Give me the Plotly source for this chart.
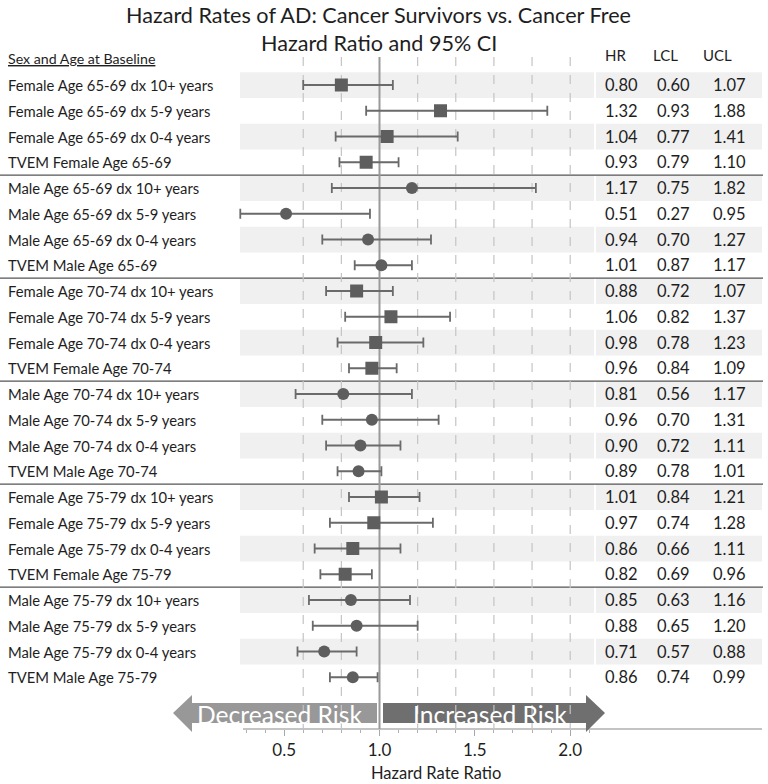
import plotly.graph_objects as go

# ---------------- data ----------------
labels = [
    "Female Age 65-69 dx 10+ years", "Female Age 65-69 dx 5-9 years",
    "Female Age 65-69 dx 0-4 years", "TVEM Female Age 65-69",
    "Male Age 65-69 dx 10+ years", "Male Age 65-69 dx 5-9 years",
    "Male Age 65-69 dx 0-4 years", "TVEM Male Age 65-69",
    "Female Age 70-74 dx 10+ years", "Female Age 70-74 dx 5-9 years",
    "Female Age 70-74 dx 0-4 years", "TVEM Female Age 70-74",
    "Male Age 70-74 dx 10+ years", "Male Age 70-74 dx 5-9 years",
    "Male Age 70-74 dx 0-4 years", "TVEM Male Age 70-74",
    "Female Age 75-79 dx 10+ years", "Female Age 75-79 dx 5-9 years",
    "Female Age 75-79 dx 0-4 years", "TVEM Female Age 75-79",
    "Male Age 75-79 dx 10+ years", "Male Age 75-79 dx 5-9 years",
    "Male Age 75-79 dx 0-4 years", "TVEM Male Age 75-79",
]
hr = [0.80, 1.32, 1.04, 0.93, 1.17, 0.51, 0.94, 1.01,
      0.88, 1.06, 0.98, 0.96, 0.81, 0.96, 0.90, 0.89,
      1.01, 0.97, 0.86, 0.82, 0.85, 0.88, 0.71, 0.86]
lcl = [0.60, 0.93, 0.77, 0.79, 0.75, 0.27, 0.70, 0.87,
       0.72, 0.82, 0.78, 0.84, 0.56, 0.70, 0.72, 0.78,
       0.84, 0.74, 0.66, 0.69, 0.63, 0.65, 0.57, 0.74]
ucl = [1.07, 1.88, 1.41, 1.10, 1.82, 0.95, 1.27, 1.17,
       1.07, 1.37, 1.23, 1.09, 1.17, 1.31, 1.11, 1.01,
       1.21, 1.28, 1.11, 0.96, 1.16, 1.20, 0.88, 0.99]
grid_x = [0.6, 0.8, 1.2, 1.4, 1.6, 1.8, 2.0]
group_breaks = [3.5, 7.5, 11.5, 15.5, 19.5]

title1 = "Hazard Rates of AD: Cancer Survivors vs. Cancer Free"
title2 = "Hazard Ratio and 95% CI"

W, H = 768, 784
FONT = "Lato"
TXT = "#1e1e1e"


def px(v):
    return v / W


def py(v):
    return 1 - v / H


rows = list(range(len(labels)))
fem = [i for i in rows if "Female" in labels[i]]
mal = [i for i in rows if "Female" not in labels[i]]

fig = go.Figure()


def add_series(idx, symbol, size):
    fig.add_trace(go.Scatter(
        x=[hr[i] for i in idx], y=[i for i in idx], mode="markers",
        marker=dict(symbol=symbol, size=size, color="#5e5e5e"),
        error_x=dict(type="data", symmetric=False,
                     array=[ucl[i] - hr[i] for i in idx],
                     arrayminus=[hr[i] - lcl[i] for i in idx],
                     color="#6a6a6a", thickness=1.8, width=5),
        showlegend=False, hoverinfo="skip"))


add_series(fem, "square", 13)
add_series(mal, "circle", 12)

shapes = []
# alternating bands
for i in rows:
    if i % 2 == 0:
        shapes.append(dict(type="rect", xref="paper", yref="y", x0=px(240), x1=px(594),
                           y0=i - 0.5, y1=i + 0.5, fillcolor="#f0f0f0", line_width=0, layer="below"))
        shapes.append(dict(type="rect", xref="paper", yref="y", x0=px(596), x1=px(762),
                           y0=i - 0.5, y1=i + 0.5, fillcolor="#f0f0f0", line_width=0, layer="below"))
# group separators
for b in group_breaks:
    shapes.append(dict(type="line", xref="paper", yref="y", x0=0, x1=px(763), y0=b, y1=b,
                       line=dict(color="#555555", width=1.3), layer="below"))
# axis line
shapes.append(dict(type="line", xref="paper", yref="paper", x0=px(243), x1=px(762),
                   y0=py(729), y1=py(729), line=dict(color="#b0b0b0", width=1.5), layer="below"))
# arrows
left_arrow = (f"M {px(173)} {py(713)} L {px(192)} {py(695)} L {px(192)} {py(703)} "
              f"L {px(377)} {py(703)} L {px(377)} {py(723)} L {px(192)} {py(723)} "
              f"L {px(192)} {py(732)} Z")
right_arrow = (f"M {px(605)} {py(713)} L {px(586)} {py(695)} L {px(586)} {py(703)} "
               f"L {px(383)} {py(703)} L {px(383)} {py(723)} L {px(586)} {py(723)} "
               f"L {px(586)} {py(732)} Z")
shapes.append(dict(type="path", xref="paper", yref="paper", path=left_arrow,
                   fillcolor="#989898", line_width=0, layer="between"))
shapes.append(dict(type="path", xref="paper", yref="paper", path=right_arrow,
                   fillcolor="#6f6f6f", line_width=0, layer="between"))
# dashed grid
for g in grid_x:
    shapes.append(dict(type="line", xref="x", yref="paper", x0=g, x1=g, y0=py(57), y1=py(729),
                       line=dict(color="#c4c4c4", width=1.2, dash="dash"), layer="between"))
# reference line at 1.0
shapes.append(dict(type="line", xref="x", yref="paper", x0=1.0, x1=1.0, y0=py(57), y1=py(729),
                   line=dict(color="#9a9a9a", width=2), layer="between"))

ann = []
ann.append(dict(text=title1, x=px(378), y=py(15), xref="paper", yref="paper", showarrow=False,
                xanchor="center", yanchor="middle", font=dict(size=21.6, color=TXT, family=FONT)))
ann.append(dict(text=title2, x=px(379), y=py(43), xref="paper", yref="paper", showarrow=False,
                xanchor="center", yanchor="middle", font=dict(size=21.6, color=TXT, family=FONT)))
ann.append(dict(text="<u>Sex and Age at Baseline</u>", x=px(6), y=py(58), xref="paper", yref="paper",
                showarrow=False, xanchor="left", yanchor="middle",
                font=dict(size=14.2, color=TXT, family=FONT)))
for name, cx in zip(["HR", "LCL", "UCL"], [615, 665, 717]):
    ann.append(dict(text=name, x=px(cx), y=py(55), xref="paper", yref="paper", showarrow=False,
                    xanchor="center", yanchor="middle", font=dict(size=15, color=TXT, family=FONT)))
for i in rows:
    ann.append(dict(text=labels[i], x=px(6), y=i, xref="paper", yref="y", showarrow=False,
                    xanchor="left", yanchor="middle", font=dict(size=14.8, color=TXT, family=FONT)))
    for val, cx in zip([hr[i], lcl[i], ucl[i]], [621, 673, 729]):
        ann.append(dict(text=f"{val:.2f}", x=px(cx), y=i, xref="paper", yref="y", showarrow=False,
                        xanchor="center", yanchor="middle", font=dict(size=16.5, color=TXT, family=FONT)))
ann.append(dict(text="Decreased Risk", x=px(279), y=py(714), xref="paper", yref="paper", showarrow=False,
                xanchor="center", yanchor="middle", font=dict(size=24.6, color="white", family=FONT)))
ann.append(dict(text="Increased Risk", x=px(490), y=py(714), xref="paper", yref="paper", showarrow=False,
                xanchor="center", yanchor="middle", font=dict(size=24.6, color="white", family=FONT)))
ann.append(dict(text="Hazard Rate Ratio", x=px(436), y=py(773), xref="paper", yref="paper", showarrow=False,
                xanchor="center", yanchor="middle", font=dict(size=16.5, color=TXT, family=FONT)))

# axis geometry: 1.0 at px 379.5, 190.7 px per unit
x_left_px, x_right_px = 238, 606
scale = 190.7
x0 = 1 - (379.5 - x_left_px) / scale
x1 = 1 + (x_right_px - 379.5) / scale

fig.update_layout(
    width=W, height=H, margin=dict(l=0, r=0, t=0, b=0),
    paper_bgcolor="white", plot_bgcolor="rgba(0,0,0,0)",
    shapes=shapes, annotations=ann,
    xaxis=dict(domain=[px(x_left_px), px(x_right_px)], range=[x0, x1],
               tickmode="linear", tick0=0, dtick=0.5, tickformat=".1f",
               showgrid=False, zeroline=False, showline=False,
               ticks="outside", ticklen=6, tickcolor="#a8a8a8", tickwidth=1.2,
               tickfont=dict(size=17, color=TXT, family=FONT),
               minor=dict(ticks="outside", dtick=0.1, tick0=0, ticklen=3, tickcolor="#b0b0b0", showgrid=False)),
    yaxis=dict(domain=[py(728.75), py(59.25)], range=[25, -1], visible=False, showgrid=False),
)

fig.write_html("out.html", config={"displayModeBar": False},
               post_script="document.body.style.margin='0px';document.body.style.padding='0px';")
